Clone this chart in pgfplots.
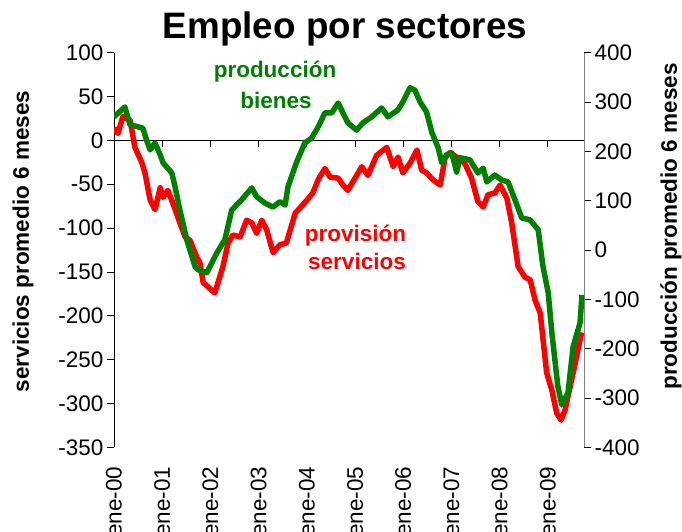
\documentclass[border=0pt]{standalone}
\usepackage{fontspec}
\setmainfont{Liberation Sans}
\usepackage{pgfplots}
\pgfplotsset{compat=1.18}
\definecolor{verde}{RGB}{0,128,0}
\definecolor{rojo}{RGB}{255,0,0}
\newcommand{\tk}{\fontsize{22.5}{26}\selectfont}
\newcommand{\lb}{\fontsize{22.5}{26}\selectfont\bfseries}

% servicios (eje izquierdo), mes 0 = ene-00
\pgfplotstableread{
m v
0 14
1 8
2.2 27
4 23
5.2 -8
6.9 -25
7.7 -37
9 -68
10.2 -79
11.5 -54
12.2 -65
13.4 -57
14.6 -71
16.4 -94
17.7 -110
18.9 -114
20.6 -133
21.4 -140
22.2 -162
23.4 -167
25.1 -174
25.9 -162
27.1 -144
28.4 -117
29.6 -108
31.4 -110
33 -91
34.3 -94
35.5 -106
36.8 -91
38 -102
39.6 -128
41.3 -119
42.9 -117
45.1 -83
47.5 -71
49.5 -60
50.8 -45
52.5 -32
53.8 -42
55.8 -43
57 -51
58.2 -57
60.4 -40
61.7 -30
63.2 -40
65.4 -17
67.9 -8
69.5 -30
70.7 -19
71.9 -37
73.7 -26
75.4 -11
76.6 -34
77.8 -37
79.4 -45
81.2 -51
82.4 -20
83.6 -14
85.3 -19
87.3 -26
89 -43
90.6 -70
91.9 -76
93.1 -62
94.8 -60
96.1 -51
97.8 -66
99 -94
100.6 -144
102.3 -156
103.6 -159
104.8 -182
106.1 -197
107.7 -265
109 -285
110.2 -311
111.3 -319
112.3 -307
114.3 -265
116.4 -219
}\servicios

% produccion (eje derecho)
\pgfplotstableread{
m v
0 270
2.7 290
4 254
7.2 247
8.1 223
9 203
10.2 217
11.5 193
12.2 177
14.4 156
15.2 128
16.4 81
18.1 21
20.2 -34
20.9 -40
23.1 -46
25.6 -6
27.6 21
29.3 81
31.8 102
34.3 126
35.5 108
37.6 95
39.6 87
41.3 98
42.6 91
43.3 128
45.5 179
47.5 217
49.2 227
50.8 249
52.5 278
54.2 278
55.8 298
57 278
58.2 258
60.4 243
62 258
64.2 270
66.6 288
68.2 270
70.7 284
71.9 300
73.7 329
74.9 324
76.2 300
77.8 280
79.1 239
80.7 207
81.6 177
82.8 193
84.1 197
85.3 158
86.1 187
88.6 183
90.6 156
91.9 166
92.8 138
94.8 152
96.5 142
98.1 138
99.8 102
101.5 65
103.6 61
105.6 41
106.8 -34
108.1 -87
109 -168
110.5 -277
111.5 -314
113 -290
114.3 -196
116 -148
116.5 -91
}\produccion

\begin{document}
\begin{tikzpicture}[x=1pt,y=1pt]
\pgfplotsset{base/.style={scale only axis, width=470pt, height=394.6pt,
  at={(114pt,-447.3pt)}, anchor=south west, xmin=0, xmax=117,
  tick align=outside, major tick length=7pt,
  tick label style={font=\tk}, /pgf/number format/assume math mode=true,
  every tick/.style={black, line width=0.8pt}}}

\begin{axis}[base, ymin=-350, ymax=100, ytick distance=50,
  axis y line*=left, y axis line style={-, black, line width=0.8pt},
  axis x line*=bottom, x axis line style={draw=none},
  xtick={0,12,...,108}, xtick style={draw=none},
  xticklabels={ene-00,ene-01,ene-02,ene-03,ene-04,ene-05,ene-06,ene-07,ene-08,ene-09},
  xticklabel shift=9pt, xticklabel style={rotate=90, anchor=east}]
\draw[black, line width=0.8pt] (axis cs:0,0) -- (axis cs:117,0);
\draw[black, line width=0.8pt] (axis cs:12,0) -- ++(0pt,-7pt) (axis cs:24,0) -- ++(0pt,-7pt)
  (axis cs:36,0) -- ++(0pt,-7pt) (axis cs:48,0) -- ++(0pt,-7pt) (axis cs:60,0) -- ++(0pt,-7pt)
  (axis cs:72,0) -- ++(0pt,-7pt) (axis cs:84,0) -- ++(0pt,-7pt) (axis cs:96,0) -- ++(0pt,-7pt)
  (axis cs:108,0) -- ++(0pt,-7pt);
\addplot[rojo, line width=5.5pt, line join=round, no marks] table[x=m, y=v] {\servicios};
\end{axis}

\begin{axis}[base, ymin=-400, ymax=400, ytick distance=100,
  axis y line*=right, y axis line style={-, gray, line width=1pt},
  axis x line=none]
\addplot[verde, line width=5.5pt, line join=round, no marks] table[x=m, y=v] {\produccion};
\end{axis}

\node[anchor=base, font=\fontsize{36.8}{40}\selectfont\bfseries] at (345,-38) {Empleo por sectores};
\node[anchor=base, text=verde, font=\lb] at (275,-77.3) {producción};
\node[anchor=base, text=verde, font=\lb] at (276,-108.3) {bienes};
\node[anchor=base, text=rojo, font=\lb] at (355.5,-241) {provisión};
\node[anchor=base, text=rojo, font=\lb] at (357,-269.3) {servicios};
\node[rotate=90, font=\lb] at (23,-241.5) {servicios promedio 6 meses};
\node[rotate=90, font=\lb] at (671,-226.5) {producción promedio 6 meses};

\pgfresetboundingbox
\useasboundingbox (0,0) rectangle (682,-531);
\end{tikzpicture}
\end{document}
